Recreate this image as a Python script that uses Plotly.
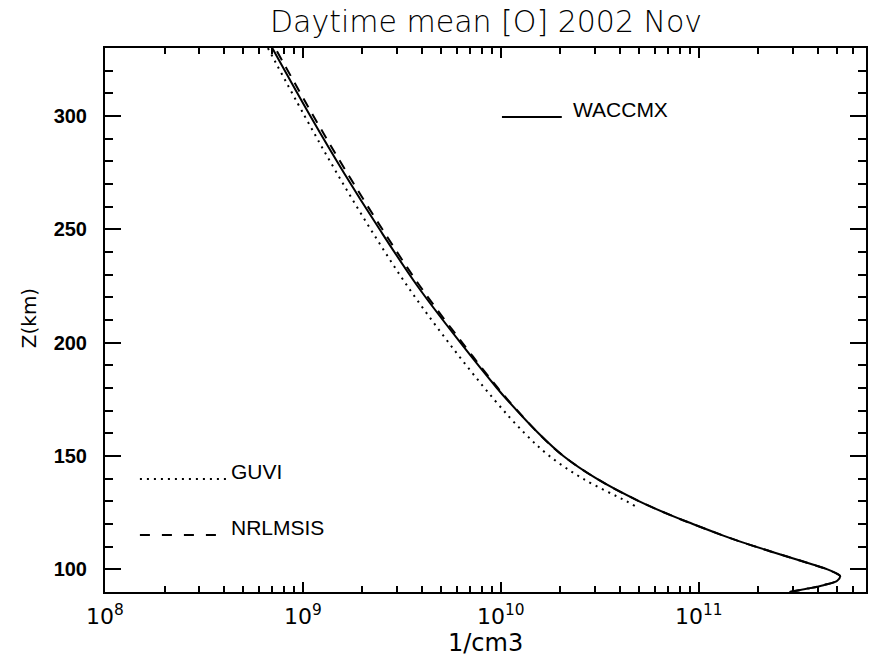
import numpy as np
import plotly.graph_objects as go

# ---- data ----
alt_waccmx = [90, 91.5, 93, 95, 97, 98, 100, 102, 105, 108, 112, 115, 120, 123, 130,
              140, 150, 160, 175, 180, 200, 225, 250, 275, 300, 330]
o_waccmx = [2.88e11, 3.55e11, 4.27e11, 5.01e11, 5.18e11, 5.01e11, 4.47e11, 3.80e11,
            2.95e11, 2.29e11, 1.65e11, 1.32e11, 9.33e10, 7.62e10, 5.01e10, 3.05e10,
            2.07e10, 1.55e10, 1.07e10, 9.55e9, 6.25e9, 3.79e9, 2.44e9, 1.61e9, 1.09e9,
            7.0e8]

alt_guvi = [128, 130, 140, 150, 160, 175, 200, 225, 250, 275, 300, 330]
o_guvi = [4.75e10, 4.32e10, 2.60e10, 1.76e10, 1.32e10, 9.23e9, 5.45e9, 3.37e9, 2.20e9,
          1.48e9, 1.02e9, 6.65e8]

alt_msis = [90, 91.5, 93, 95, 97, 98, 100, 102, 105, 108, 112, 115, 120, 123, 130,
            140, 150, 160, 175, 180, 200, 225, 250, 275, 300, 330]
o_msis = [2.88e11, 3.55e11, 4.27e11, 5.01e11, 5.18e11, 5.01e11, 4.47e11, 3.80e11,
          2.95e11, 2.29e11, 1.65e11, 1.32e11, 9.33e10, 7.62e10, 5.01e10, 3.05e10,
          2.07e10, 1.55e10, 1.08e10, 9.66e9, 6.38e9, 3.90e9, 2.52e9, 1.67e9, 1.13e9,
          7.24e8]

x_major = [1e8, 1e9, 1e10, 1e11]
x_major_text = ["10<sup>8</sup>", "10<sup>9</sup>", "10<sup>10</sup>", "10<sup>11</sup>"]
y_major = [100, 150, 200, 250, 300]
title_text = "Daytime mean [O] 2002 Nov"
x_title = "1/cm3"
y_title = "Z(km)"
legend_names = ["WACCMX", "GUVI", "NRLMSIS"]

x_minor = [k * 10.0 ** e for e in range(8, 12) for k in range(2, 10) if k * 10.0 ** e <= 7e11]

fig = go.Figure()
fig.add_trace(go.Scatter(x=o_msis, y=alt_msis, mode="lines",
                         line=dict(color="black", width=2, dash="10px,8px", shape="spline")))
fig.add_trace(go.Scatter(x=o_waccmx, y=alt_waccmx, mode="lines",
                         line=dict(color="black", width=2, shape="spline")))
fig.add_trace(go.Scatter(x=o_guvi, y=alt_guvi, mode="lines",
                         line=dict(color="black", width=2, dash="2px,5px", shape="spline")))

W, H = 870, 663
L, R, T, B = 105, 2, 48, 71
pw, ph = W - L - R, H - T - B


def px(x):
    return (x - L) / pw


def py(y):
    return (H - B - y) / ph


axis_common = dict(showline=True, linewidth=2, linecolor="black", mirror="allticks",
                   ticks="inside", tickcolor="black", tickwidth=2, showgrid=False,
                   zeroline=False)

fig.update_layout(
    width=W, height=H,
    margin=dict(l=L, r=R, t=T, b=B),
    plot_bgcolor="white", paper_bgcolor="white",
    showlegend=False,
    title=dict(text=title_text, x=px(487), xref="paper", xanchor="center",
               y=1 - 21 / H, yanchor="middle",
               font=dict(family="DejaVu Sans", size=30, color="black", weight=300)),
    xaxis=dict(type="log", range=[8, np.log10(7e11)], tickvals=x_major, ticktext=x_major_text,
               ticklen=10,
               minor=dict(tickvals=x_minor, ticks="inside", ticklen=6, tickwidth=2,
                          tickcolor="black", showgrid=False),
               tickfont=dict(family="DejaVu Sans", size=22, color="black"),
               ticklabelstandoff=4, **axis_common),
    yaxis=dict(range=[90, 330], tickvals=y_major, ticklen=16,
               minor=dict(dtick=10, tick0=0, ticks="inside", ticklen=8, tickwidth=2,
                          tickcolor="black", showgrid=False),
               tickfont=dict(family="Liberation Sans", size=20, color="black", weight="bold"),
               ticklabelstandoff=12, **axis_common),
)

# axis titles
fig.add_annotation(text=x_title, xref="paper", yref="paper", x=px(487), y=py(643),
                   showarrow=False, xanchor="center", yanchor="middle",
                   font=dict(family="DejaVu Sans", size=24, color="black"))
fig.add_annotation(text=y_title, xref="paper", yref="paper", x=px(29), y=py(318),
                   showarrow=False, xanchor="center", yanchor="middle", textangle=-90,
                   font=dict(family="DejaVu Sans", size=20, color="black"))

# legend samples
leg = [
    (legend_names[0], 503, 563, 117, "solid"),
    (legend_names[1], 140, 227, 479, "2px,5px"),
    (legend_names[2], 140, 217, 535, "10px,12px"),
]
text_x = [572, 229, 229]
for (name, x0, x1, yy, dash), tx in zip(leg, text_x):
    fig.add_shape(type="line", xref="paper", yref="paper", x0=px(x0), x1=px(x1),
                  y0=py(yy), y1=py(yy), line=dict(color="black", width=2, dash=dash))
    fig.add_annotation(text=name, xref="paper", yref="paper", x=px(tx), y=py(yy - 8),
                       showarrow=False, xanchor="left", yanchor="middle",
                       font=dict(family="Liberation Sans", size=21, color="black"))

fig.write_html("out.html")
